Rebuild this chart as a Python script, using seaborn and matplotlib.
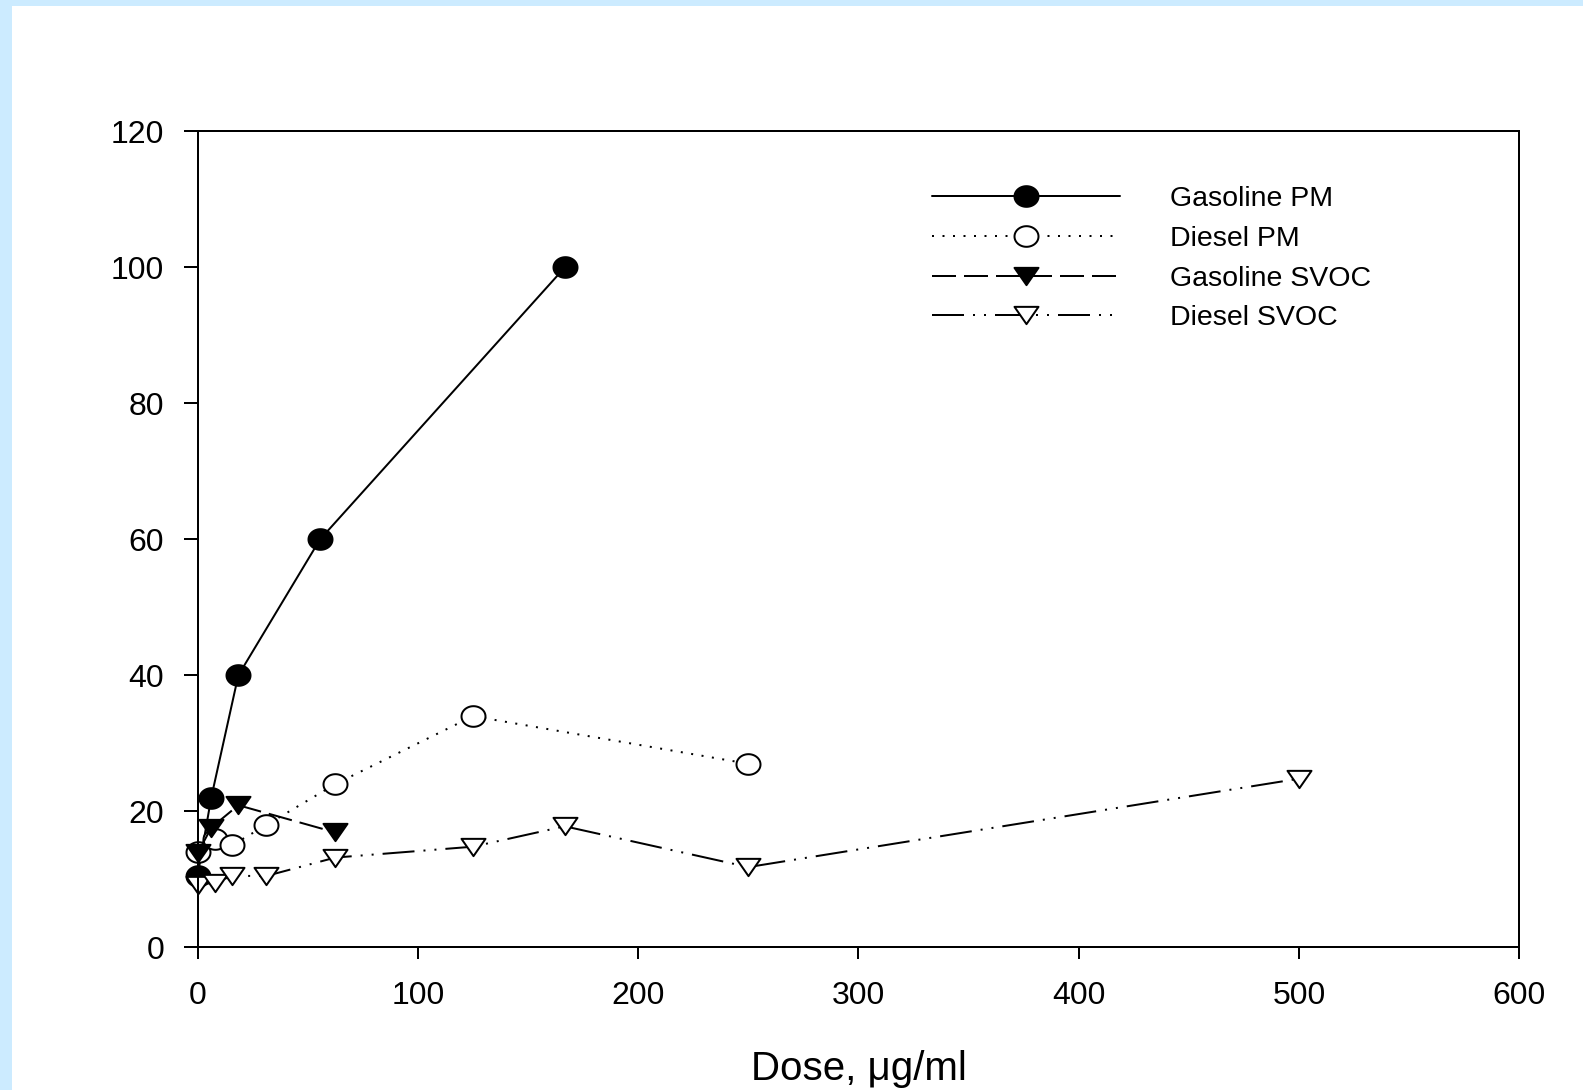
import numpy as np
import pandas as pd
import matplotlib
matplotlib.use("Agg")
import matplotlib.pyplot as plt
from matplotlib.path import Path
from matplotlib.patches import Rectangle
import seaborn as sns

# Dose-response data (dose in ug/ml)
gas_pm_dose = [0, 6.2, 18.5, 55.6, 166.7]
gas_pm_val = [10.5, 22, 40, 60, 100]

die_pm_dose = [0, 7.8, 15.6, 31.25, 62.5, 125, 250]
die_pm_val = [14, 16, 15, 18, 24, 34, 27]

gas_svoc_dose = [0, 6.2, 18.5, 62.5]
gas_svoc_val = [13.8, 17.6, 20.9, 16.9]

die_svoc_dose = [0, 7.8, 15.6, 31.25, 62.5, 125, 166.7, 250, 500]
die_svoc_val = [9.2, 9.5, 10.5, 10.5, 13.2, 14.8, 17.8, 11.8, 24.8]

series_names = ["Gasoline PM", "Diesel PM", "Gasoline SVOC", "Diesel SVOC"]
x_ticks = [0, 100, 200, 300, 400, 500, 600]
y_ticks = [0, 20, 40, 60, 80, 100, 120]

sns.set_theme(style="white")
plt.rcParams["font.family"] = ["Liberation Sans", "DejaVu Sans"]
plt.rcParams["lines.scale_dashes"] = False

PX = 0.72  # points per pixel at dpi=100

fig = plt.figure(figsize=(15.83, 10.90), dpi=100)
fig.patch.set_facecolor("white")
ax = fig.add_axes([0.1248, 0.1309, 0.8350, 0.7485])
ax.set_facecolor("white")

# marker shapes: slightly flattened ellipse and wide inverted triangle
theta = np.linspace(0, 2 * np.pi, 60)
ellipse = Path(np.column_stack([np.cos(theta), 0.86 * np.sin(theta)]), closed=True)
tri_down = Path([(-1, 0.72), (1, 0.72), (0, -0.72), (-1, 0.72)], closed=True)

frames = {
    "Gasoline PM": (gas_pm_dose, gas_pm_val),
    "Diesel PM": (die_pm_dose, die_pm_val),
    "Gasoline SVOC": (gas_svoc_dose, gas_svoc_val),
    "Diesel SVOC": (die_svoc_dose, die_svoc_val),
}

styles = {
    "Gasoline PM": dict(marker=ellipse, mfc="black", ls="-"),
    "Diesel PM": dict(marker=ellipse, mfc="white", dashes=(2 * PX, 8.5 * PX)),
    "Gasoline SVOC": dict(marker=tri_down, mfc="black", dashes=(24 * PX, 8 * PX)),
    "Diesel SVOC": dict(marker=tri_down, mfc="white",
                        dashes=(32 * PX, 9 * PX, 2 * PX, 9 * PX, 2 * PX, 9 * PX)),
}

for name in series_names:
    d, v = frames[name]
    df = pd.DataFrame({"dose": d, "value": v})
    st = styles[name]
    kw = dict(color="black", marker=st["marker"], markerfacecolor=st["mfc"],
              markeredgecolor="black", markeredgewidth=2 * PX,
              markersize=24 * PX, linewidth=2 * PX, label=name,
              clip_on=False)
    if "dashes" in st:
        kw["dashes"] = st["dashes"]
    else:
        kw["linestyle"] = st["ls"]
    sns.lineplot(data=df, x="dose", y="value", ax=ax, estimator=None, sort=False, **kw)

ax.set_xlim(0, 600)
ax.set_ylim(0, 120)
ax.set_xticks(x_ticks)
ax.set_yticks(y_ticks)
ax.set_xticklabels([str(t) for t in x_ticks])
ax.set_yticklabels([str(t) for t in y_ticks])

for sp in ax.spines.values():
    sp.set_visible(True)
    sp.set_color("black")
    sp.set_linewidth(2 * PX)

ax.tick_params(axis="x", direction="out", length=12 * PX, width=2 * PX,
               labelsize=23, pad=15.5, colors="black", bottom=True, top=False)
ax.tick_params(axis="y", direction="out", length=14 * PX, width=2 * PX,
               labelsize=23, pad=14, colors="black", left=True, right=False)

ax.set_xlabel("Dose, \u03bcg/ml", fontsize=29, labelpad=28, color="black")
ax.set_ylabel("")
ax.grid(False)

leg = ax.legend(loc="upper left", bbox_to_anchor=(0.5888, 0.829),
                bbox_transform=fig.transFigure, frameon=False, fontsize=20.5,
                handlelength=6.6, handletextpad=1.75, labelspacing=0.48,
                borderpad=0, borderaxespad=0, numpoints=1)
for t in leg.get_texts():
    t.set_color("black")

# light blue border strips along the left and top edges
fig.patches.append(Rectangle((0, 0), 12 / 1583, 1, transform=fig.transFigure,
                             facecolor="#CCEBFF", edgecolor="none", zorder=10))
fig.patches.append(Rectangle((0, 1 - 6 / 1090), 1, 6 / 1090, transform=fig.transFigure,
                             facecolor="#CCEBFF", edgecolor="none", zorder=10))

fig.savefig("out.png", dpi=100, facecolor="white")
